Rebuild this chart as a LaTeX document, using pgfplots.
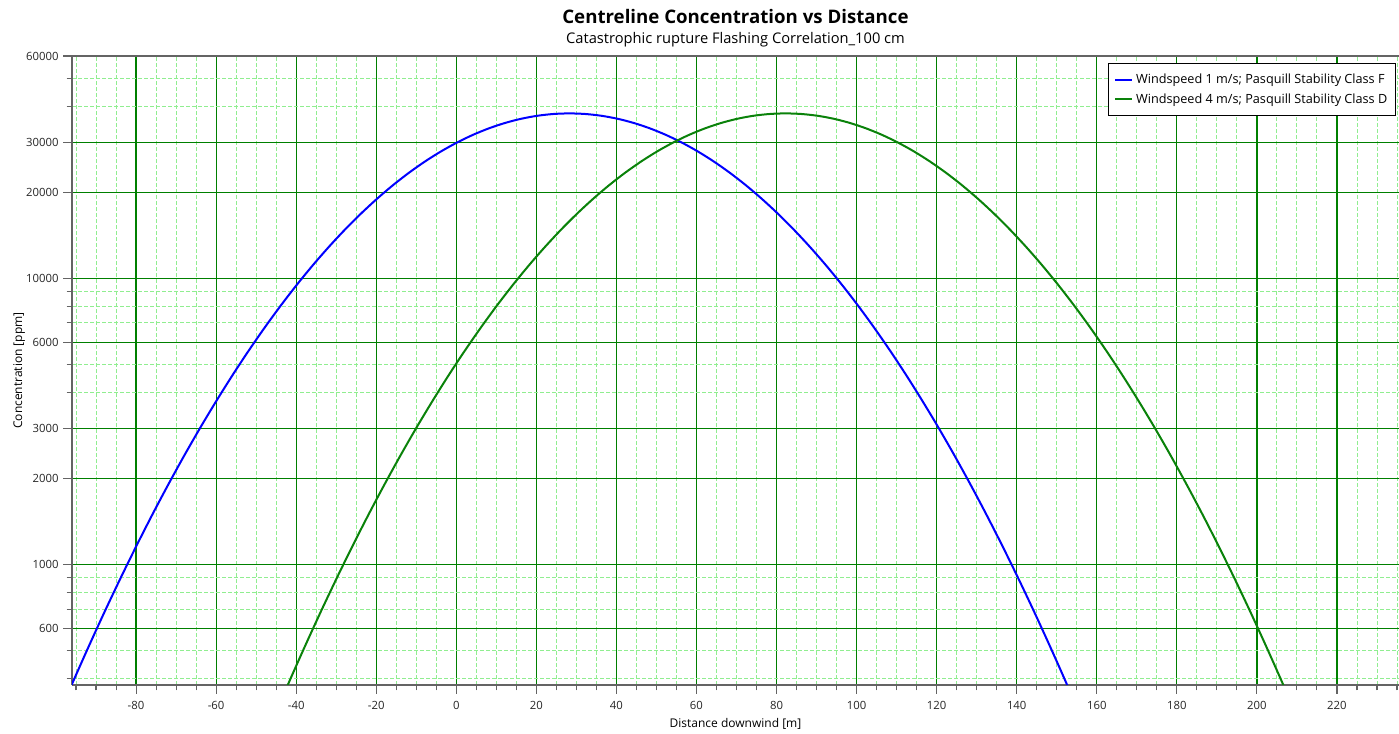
\documentclass[border=0pt]{standalone}
\usepackage{pgfplots}
\pgfplotsset{compat=1.18}
\usepackage{fontspec}
\setmainfont{Open Sans}
\definecolor{gmaj}{RGB}{0,128,0}
\definecolor{gmin}{RGB}{144,238,144}
\definecolor{axgray}{RGB}{100,100,100}
\definecolor{bl}{RGB}{0,0,255}
\definecolor{gr}{RGB}{10,130,10}
\begin{document}
\begin{tikzpicture}
\path[use as bounding box] (-54pt,-36pt) rectangle (995.25pt,513.75pt);
\begin{axis}[
  at={(0,0)}, anchor=south west,
  scale only axis, width=995.25pt, height=471.75pt,
  ymode=log, xmin=-96, xmax=235.5, ymin=380, ymax=60000,
  axis x line=box, axis y line=left, axis line style={-, axgray, line width=0.8pt},
  /pgf/number format/assume math mode=true,
  xtick={-80,-60,-40,-20,0,20,40,60,80,100,120,140,160,180,200,220},
  xticklabels={-80,-60,-40,-20,0,20,40,60,80,100,120,140,160,180,200,220},
  minor xtick={-95,-90,-85,-75,-70,-65,-55,-50,-45,-35,-30,-25,-15,-10,-5,5,10,15,25,30,35,45,50,55,65,70,75,85,90,95,105,110,115,125,130,135,145,150,155,165,170,175,185,190,195,205,210,215,225,230,235},
  ytick={600,1000,2000,3000,6000,10000,20000,30000,60000},
  yticklabels={600,1000,2000,3000,6000,10000,20000,30000,60000},
  minor ytick={400,500,700,800,900,4000,5000,7000,8000,9000,40000,50000},
  tick align=outside, tick pos=left,
  major tick length=6.5pt, minor tick length=4pt,
  every tick/.style={axgray, line width=0.8pt},
  grid=both,
  major grid style={gmaj, line width=0.9pt},
  minor grid style={gmin, line width=0.7pt, dash pattern=on 3pt off 1.5pt},
  tick label style={font=\fontsize{8.5}{10}\selectfont, text=black!85},
  xticklabel style={yshift=-2pt},
  xlabel={Distance downwind [m]}, ylabel={Concentration [ppm]},
  label style={font=\fontsize{9}{10}\selectfont},
  xlabel style={yshift=0pt},
  ylabel style={yshift=-6pt},
  title={{\fontsize{14}{16}\selectfont\bfseries Centreline Concentration vs Distance}\\[3pt]{\fontsize{11}{13}\selectfont Catastrophic rupture Flashing Correlation\_100 cm}},
  title style={align=center, yshift=-3pt},
  legend style={at={(0.9975,0.989)}, anchor=north east, draw=black, line width=0.6pt,
    font=\fontsize{9.5}{11}\selectfont, inner xsep=4pt, inner ysep=6pt, row sep=2pt},
  legend cell align=left,
  legend image code/.code={\draw[#1, line width=1.5pt] (0pt,0pt) -- (13pt,0pt);},
  clip=true,
]
\addplot[bl, line width=1.5pt, smooth] coordinates {
(-99.75,289) (-95.75,390) (-91.75,521) (-87.75,690) (-83.75,905) (-79.75,1176)
(-75.75,1514) (-71.75,1930) (-67.75,2437) (-63.75,3048) (-59.75,3775) (-55.75,4633)
(-51.75,5631) (-47.75,6780) (-43.75,8086) (-39.75,9551) (-35.75,11176) (-31.75,12952)
(-27.75,14870) (-23.75,16909) (-19.75,19046) (-15.75,21251) (-11.75,23485) (-7.75,25707)
(-3.75,27875) (0.25,29936) (4.25,31847) (8.25,33560) (12.25,35026) (16.25,36215)
(20.25,37087) (24.25,37620) (28.25,37800) (32.25,37620) (36.25,37087) (40.25,36215)
(44.25,35026) (48.25,33560) (52.25,31847) (56.25,29936) (60.25,27875) (64.25,25707)
(68.25,23485) (72.25,21251) (76.25,19046) (80.25,16909) (84.25,14870) (88.25,12952)
(92.25,11176) (96.25,9551) (100.25,8086) (104.25,6780) (108.25,5631) (112.25,4633)
(116.25,3775) (120.25,3048) (124.25,2437) (128.25,1930) (132.25,1514) (136.25,1176)
(140.25,905) (144.25,690) (148.25,521) (152.25,390) (156.25,289)
};
\addlegendentry{Windspeed 1 m/s; Pasquill Stability Class F}
\addplot[gr, line width=1.5pt, smooth] coordinates {
(-45.75,289) (-41.75,390) (-37.75,521) (-33.75,690) (-29.75,905) (-25.75,1176)
(-21.75,1514) (-17.75,1930) (-13.75,2437) (-9.75,3048) (-5.75,3775) (-1.75,4633)
(2.25,5631) (6.25,6780) (10.25,8086) (14.25,9551) (18.25,11176) (22.25,12952)
(26.25,14870) (30.25,16909) (34.25,19046) (38.25,21251) (42.25,23485) (46.25,25707)
(50.25,27875) (54.25,29936) (58.25,31847) (62.25,33560) (66.25,35026) (70.25,36215)
(74.25,37087) (78.25,37620) (82.25,37800) (86.25,37620) (90.25,37087) (94.25,36215)
(98.25,35026) (102.25,33560) (106.25,31847) (110.25,29936) (114.25,27875) (118.25,25707)
(122.25,23485) (126.25,21251) (130.25,19046) (134.25,16909) (138.25,14870) (142.25,12952)
(146.25,11176) (150.25,9551) (154.25,8086) (158.25,6780) (162.25,5631) (166.25,4633)
(170.25,3775) (174.25,3048) (178.25,2437) (182.25,1930) (186.25,1514) (190.25,1176)
(194.25,905) (198.25,690) (202.25,521) (206.25,390) (210.25,289)
};
\addlegendentry{Windspeed 4 m/s; Pasquill Stability Class D}
\end{axis}
\end{tikzpicture}
\end{document}
